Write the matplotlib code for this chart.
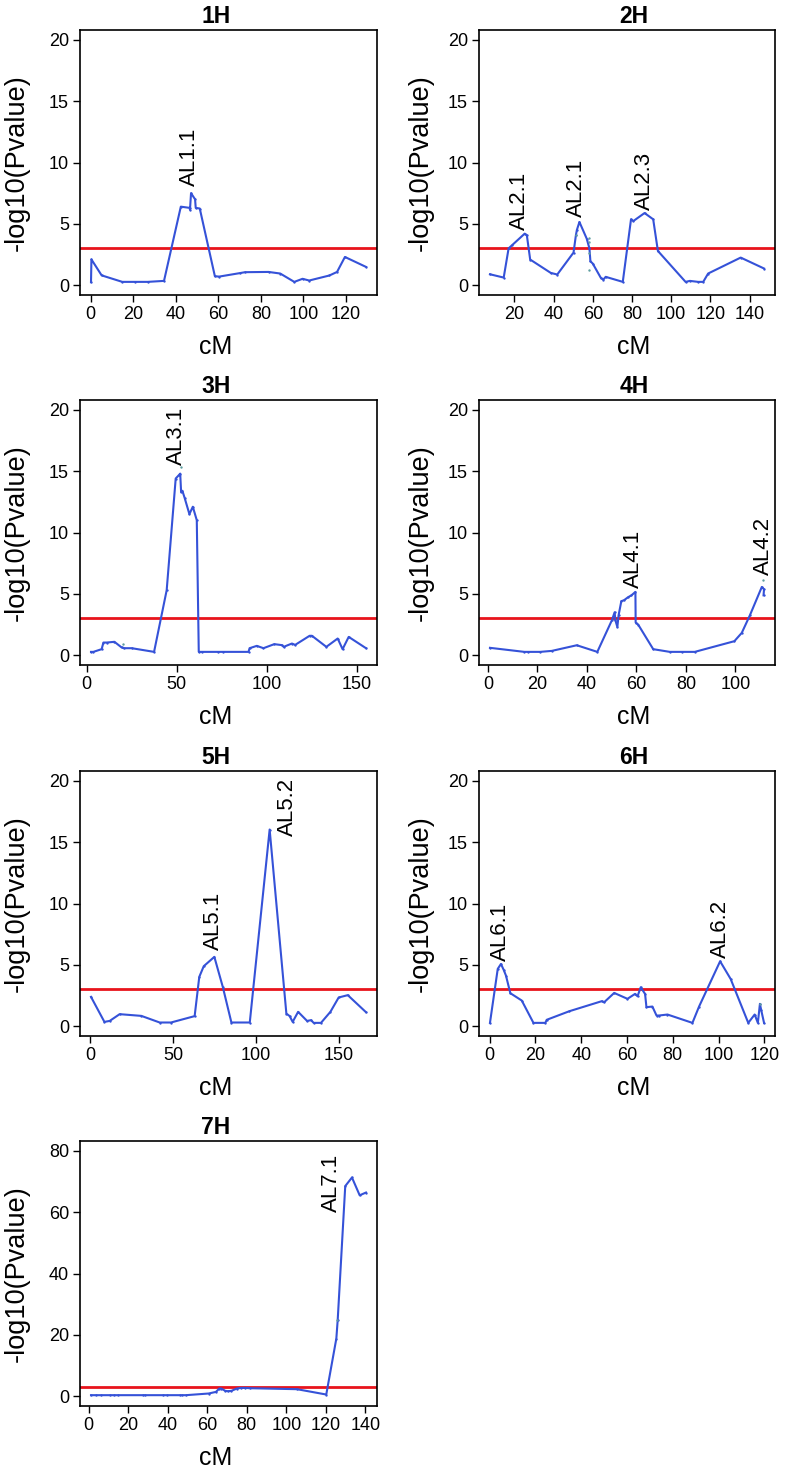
import matplotlib
matplotlib.use("Agg")
import matplotlib.pyplot as plt

plt.rcParams['font.family'] = ['Liberation Sans', 'DejaVu Sans']

# ---------------- data ----------------
chrom_names = ['1H', '2H', '3H', '4H', '5H', '6H', '7H']
threshold = 3

x1 = [0.2, 0.4, 5.2, 14.9, 20.9, 26.8, 34.5, 42.4, 46.6, 46.7, 47.2, 49.1, 49.4, 51.3, 58.4, 60.4,
      70.0, 72.6, 83.6, 89.1, 95.7, 99.6, 102.7, 112.2, 115.8, 119.5, 129.4]
y1 = [0.25, 2.1, 0.8, 0.27, 0.27, 0.27, 0.35, 6.4, 6.3, 6.15, 7.5, 7.0, 6.3, 6.25, 0.73, 0.7,
      0.98, 1.06, 1.08, 0.95, 0.27, 0.52, 0.38, 0.79, 1.08, 2.3, 1.49]

x2 = [7.6, 14.6, 17.1, 18.8, 25.3, 26.4, 28.1, 38.6, 41.9, 50.2, 51.4, 51.9, 53.2, 56.9, 58.3, 58.8,
      60.0, 64.1, 65.4, 66.6, 75.3, 79.5, 80.7, 86.4, 90.8, 93.2, 107.3, 109.5, 113.7, 116.3, 118.8,
      135.4, 147.3]
y2 = [0.89, 0.62, 3.0, 3.25, 4.2, 4.07, 2.09, 1.0, 0.87, 2.66, 4.07, 4.5, 5.15, 3.8, 3.0, 1.95,
      1.76, 0.6, 0.46, 0.68, 0.27, 5.37, 5.23, 5.88, 5.37, 2.79, 0.27, 0.35, 0.27, 0.27, 0.95,
      2.25, 1.36]

x3 = [2.4, 3.7, 8.3, 9.3, 11.1, 15.4, 19.4, 20.7, 25.0, 37.4, 44.4, 49.4, 51.3, 51.9, 52.4, 53.1,
      54.3, 57.0, 58.9, 61.1, 62.2, 63.9, 73.1, 75.9, 89.8, 90.4, 94.4, 98.1, 104.1, 108.3, 109.3,
      113.9, 115.7, 123.7, 125.0, 133.0, 139.3, 142.0, 145.4, 155.0]
y3 = [0.27, 0.27, 0.49, 1.03, 1.03, 1.09, 0.63, 0.57, 0.57, 0.27, 5.3, 14.4, 14.7, 14.8, 13.3, 13.4,
      12.85, 11.5, 12.1, 11.0, 0.27, 0.27, 0.27, 0.27, 0.27, 0.57, 0.76, 0.57, 0.9, 0.82, 0.68,
      0.95, 0.84, 1.58, 1.58, 0.68, 1.36, 0.49, 1.49, 0.57]

x4 = [0.8, 14.7, 16.1, 21.1, 25.8, 35.9, 44.2, 50.1, 51.2, 51.5, 52.3, 52.8, 53.9, 55.0, 56.6, 58.0,
      59.6, 59.7, 60.7, 66.8, 73.5, 78.6, 83.6, 99.6, 102.6, 105.9, 110.7, 111.6, 111.4]
y4 = [0.6, 0.27, 0.27, 0.27, 0.35, 0.81, 0.27, 2.85, 3.5, 2.85, 2.3, 3.25, 4.4, 4.48, 4.72, 4.88,
      5.16, 2.66, 2.5, 0.49, 0.27, 0.27, 0.27, 1.14, 1.82, 3.26, 5.56, 5.37, 4.88]

x5 = [0.4, 8.5, 11.7, 17.7, 30.8, 41.9, 48.7, 63.0, 65.8, 68.5, 74.9, 80.0, 85.2, 96.3, 108.3, 118.4,
      120.4, 122.2, 125.5, 130.9, 133.3, 134.9, 139.3, 145.0, 150.0, 155.5, 166.5]
y5 = [2.39, 0.35, 0.43, 0.98, 0.84, 0.3, 0.3, 0.82, 4.02, 4.89, 5.65, 3.2, 0.3, 0.3, 16.03, 1.03,
      0.82, 0.35, 1.17, 0.43, 0.49, 0.27, 0.27, 1.17, 2.34, 2.53, 1.14]

x6 = [0.1, 3.5, 4.9, 6.1, 7.1, 9.0, 14.0, 19.1, 24.3, 24.9, 34.8, 49.0, 50.0, 54.4, 60.2, 63.5,
      64.6, 66.0, 67.9, 68.5, 71.1, 72.9, 74.0, 77.7, 88.6, 91.5, 100.7, 105.3, 113.0, 115.8, 117.2,
      118.1, 118.7, 119.9]
y6 = [0.27, 4.67, 5.07, 4.59, 4.12, 2.69, 2.09, 0.27, 0.27, 0.52, 1.22, 2.04, 1.95, 2.71, 2.23, 2.63,
      2.44, 3.17, 2.63, 1.55, 1.6, 0.87, 0.87, 0.95, 0.27, 1.6, 5.29, 3.85, 0.27, 0.95, 0.27,
      1.82, 1.28, 0.27]

x7 = [1.2, 3.9, 6.4, 10.6, 13.0, 14.8, 27.3, 28.3, 37.4, 39.6, 46.0, 47.2, 49.2, 60.7, 64.4, 66.1,
      67.1, 69.1, 70.5, 72.2, 75.0, 77.1, 79.3, 81.5, 105.4, 120.2, 125.3, 126.0, 129.8, 133.2,
      137.1, 140.3]
y7 = [0.33, 0.33, 0.33, 0.33, 0.33, 0.33, 0.33, 0.33, 0.33, 0.33, 0.33, 0.33, 0.33, 0.87, 1.4, 2.5,
      2.5, 1.74, 1.63, 1.74, 2.5, 2.7, 2.7, 2.6, 2.28, 0.54, 18.8, 25.0, 68.5, 71.3, 65.5, 66.4]

# extra isolated markers
dots_x = [[], [51.3, 58.3, 58.3, 58.3, 58.3], [20.0, 52.2], [111.2], [], [118.1], [125.6]]
dots_y = [[], [4.05, 3.85, 3.55, 2.6, 1.25], [0.95, 15.3], [6.1], [], [1.82], [25.0]]

# peak labels
lab_text = [['AL1.1'], ['AL2.1', 'AL2.1', 'AL2.3'], ['AL3.1'], ['AL4.1', 'AL4.2'],
            ['AL5.1', 'AL5.2'], ['AL6.1', 'AL6.2'], ['AL7.1']]
lab_x = [[46.3], [22.7, 51.5, 86.1], [50.0], [59.0, 111.4], [74.5, 118.8], [4.9, 100.7], [122.8]]
lab_y = [[8.06], [4.5, 5.55, 6.15], [15.5], [5.48, 6.5], [6.25, 15.5], [5.3, 5.56], [60.1]]

x_ticks = [[0, 20, 40, 60, 80, 100, 120], [20, 40, 60, 80, 100, 120, 140], [0, 50, 100, 150],
           [0, 20, 40, 60, 80, 100], [0, 50, 100, 150], [0, 20, 40, 60, 80, 100, 120],
           [0, 20, 40, 60, 80, 100, 120, 140]]
y_max = [20, 20, 20, 20, 20, 20, 80]
y_ticks = [[0, 5, 10, 15, 20]] * 6 + [[0, 20, 40, 60, 80]]

xs = [x1, x2, x3, x4, x5, x6, x7]
ys = [y1, y2, y3, y4, y5, y6, y7]

# ---------------- style ----------------
BLUE = '#3552d8'
RED = '#e8141c'
DOT = '#5f9ea0'

W, H = 786, 1474
fig = plt.figure(figsize=(W / 100, H / 100), dpi=100)

col_left = [80, 479]
col_width = [297, 296]
row_top = [30, 400, 771, 1141]
ax_h = 265
title_x = [0.458, 0.524]

for i, name in enumerate(chrom_names):
    r, c = divmod(i, 2)
    left = col_left[c] / W
    bottom = 1 - (row_top[r] + ax_h) / H
    ax = fig.add_axes([left, bottom, col_width[c] / W, ax_h / H])

    x, y = xs[i], ys[i]
    ax.axhline(threshold, color=RED, lw=2.0, zorder=2)
    ax.plot(x, y, color=BLUE, lw=1.5, marker='o', ms=1.7, mew=0, zorder=3)
    if dots_x[i]:
        ax.scatter(dots_x[i], dots_y[i], s=3, color=DOT, zorder=4, linewidths=0)
    for t, lx, ly in zip(lab_text[i], lab_x[i], lab_y[i]):
        ax.text(lx, ly, t, rotation=90, ha='center', va='bottom', fontsize=16, zorder=5)

    xmin, xmax = min(x), max(x)
    pad = 0.04 * (xmax - xmin)
    ax.set_xlim(xmin - pad, xmax + pad)
    ax.set_ylim(-0.04 * y_max[i], y_max[i] * 1.04)
    ax.set_xticks(x_ticks[i])
    ax.set_yticks(y_ticks[i])
    ax.tick_params(direction='out', length=5, width=1.0, labelsize=13, pad=3, colors='black')
    for s in ax.spines.values():
        s.set_linewidth(1.2)

    ax.set_title(name, x=title_x[c], y=1.026, pad=0, fontsize=16.5, fontweight='bold')
    ax.set_xlabel('cM', fontsize=18, va='baseline')
    ax.xaxis.set_label_coords(title_x[c], -0.223)
    ax.set_ylabel('-log10(Pvalue)', fontsize=19.5, va='center')
    ax.yaxis.set_label_coords(-0.212 if c == 0 else -0.198, 0.5)

fig.savefig('out.png', dpi=100)
